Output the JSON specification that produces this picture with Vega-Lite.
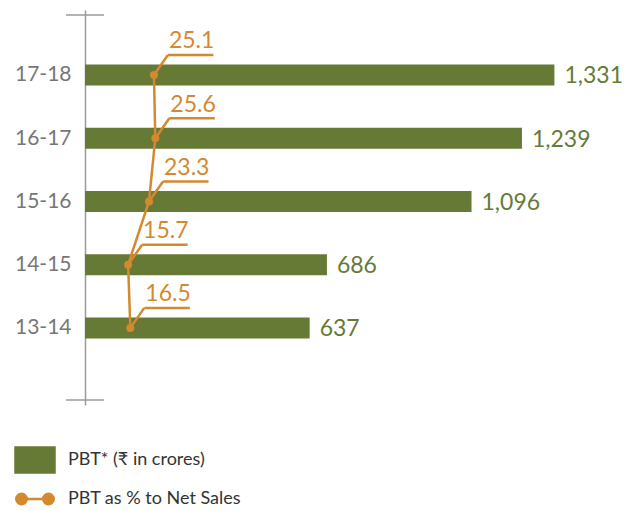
{
  "$schema": "https://vega.github.io/schema/vega-lite/v6.json",
  "width": 529,
  "height": 395,
  "autosize": {"type": "none"},
  "padding": {"left": 85, "top": 10, "right": 20, "bottom": 106},
  "config": {"view": {"stroke": null}, "font": "Lato"},
  "data": {"values": [
    {"year": "17-18", "i": 4, "pbt": 1331, "pct": 25.1},
    {"year": "16-17", "i": 3, "pbt": 1239, "pct": 25.6},
    {"year": "15-16", "i": 2, "pbt": 1096, "pct": 23.3},
    {"year": "14-15", "i": 1, "pbt": 686, "pct": 15.7},
    {"year": "13-14", "i": 0, "pbt": 637, "pct": 16.5}
  ]},
  "resolve": {"scale": {"x": "independent"}},
  "layer": [
    {
      "layer": [
        {
          "mark": {"type": "bar", "size": 21, "orient": "horizontal"},
          "encoding": {
            "y": {"field": "i", "type": "quantitative",
              "scale": {"domain": [-1.14, 4.948], "nice": false, "zero": false},
              "axis": {"values": [0, 1, 2, 3, 4], "labelExpr": "['13-14','14-15','15-16','16-17','17-18'][datum.value]", "title": null, "grid": false, "ticks": false, "domainColor": "#9a9a9a", "domainWidth": 1.5, "labelFontSize": 21, "labelColor": "#777777", "labelPadding": 14, "labelFont": "Lato", "labelBaseline": "middle"}},
            "x": {"field": "pbt", "type": "quantitative", "scale": {"domain": [0, 1500], "nice": false}, "axis": null},
            "color": {"datum": "PBT* (₹ in crores)", "type": "nominal",
              "scale": {"domain": ["PBT* (₹ in crores)", "PBT as % to Net Sales"], "range": ["#667a36", "#d4892f"]},
              "legend": {
                "orient": "none", "legendX": -71, "legendY": 429, "direction": "vertical", "title": null,
                "padding": 0, "rowPadding": 0, "symbolSize": 1521, "labelFontSize": 18, "labelColor": "#333333",
                "labelFont": "Lato", "labelOffset": 12, "labelLimit": 400,
                "encode": {"symbols": {"update": {
                  "shape": {"signal": "datum.value === 'PBT as % to Net Sales' ? 'M-0.69,0H0.69M-0.96,0A0.27,0.27 0 1 0 -0.42,0A0.27,0.27 0 1 0 -0.96,0ZM0.42,0A0.27,0.27 0 1 0 0.96,0A0.27,0.27 0 1 0 0.42,0Z' : 'M-1,-0.64H1V0.64H-1Z'"},
                  "fill": {"signal": "datum.value === 'PBT as % to Net Sales' ? '#d4892f' : '#667a36'"},
                  "stroke": {"signal": "datum.value === 'PBT as % to Net Sales' ? '#d4892f' : 'transparent'"},
                  "strokeWidth": {"value": 2.5},
                  "opacity": {"value": 1}
                }}}
              }}
          }
        },
        {
          "mark": {"type": "text", "align": "left", "baseline": "alphabetic", "dx": 10, "dy": 8.5, "fontSize": 23, "color": "#667a36", "font": "Lato"},
          "encoding": {
            "y": {"field": "i", "type": "quantitative"},
            "x": {"field": "pbt", "type": "quantitative"},
            "text": {"field": "pbt", "type": "quantitative", "format": ","}
          }
        },
        {
          "data": {"values": [{"yc": -1.14}, {"yc": 4.948}]},
          "mark": {"type": "rule", "color": "#9a9a9a", "strokeWidth": 1.5},
          "encoding": {
            "y": {"field": "yc", "type": "quantitative"},
            "x": {"datum": -54},
            "x2": {"datum": 54}
          }
        }
      ]
    },
    {
      "layer": [
        {
          "mark": {"type": "line", "strokeWidth": 2.5},
          "encoding": {
            "x": {"field": "pct", "type": "quantitative", "scale": {"domain": [0, 192.6], "nice": false}, "axis": null},
            "y": {"field": "i", "type": "quantitative"},
            "order": {"field": "i"},
            "color": {"datum": "PBT as % to Net Sales", "type": "nominal"}
          }
        },
        {
          "mark": {"type": "rule", "color": "#d4892f", "strokeWidth": 2.5, "x2Offset": 14, "y2Offset": -20},
          "encoding": {
            "x": {"field": "pct", "type": "quantitative"},
            "x2": {"field": "pct"},
            "y": {"field": "i", "type": "quantitative"},
            "y2": {"field": "i"}
          }
        },
        {
          "mark": {"type": "rule", "color": "#d4892f", "strokeWidth": 2.5, "xOffset": 14, "x2Offset": 59.5, "yOffset": -20, "y2Offset": -20},
          "encoding": {
            "x": {"field": "pct", "type": "quantitative"},
            "x2": {"field": "pct"},
            "y": {"field": "i", "type": "quantitative"},
            "y2": {"field": "i"}
          }
        },
        {
          "mark": {"type": "point", "filled": true, "size": 64, "opacity": 1, "color": "#d4892f"},
          "encoding": {
            "x": {"field": "pct", "type": "quantitative"},
            "y": {"field": "i", "type": "quantitative"}
          }
        },
        {
          "mark": {"type": "text", "align": "left", "baseline": "alphabetic", "dx": 15, "dy": -26.5, "fontSize": 23, "color": "#d4892f", "font": "Lato"},
          "encoding": {
            "x": {"field": "pct", "type": "quantitative"},
            "y": {"field": "i", "type": "quantitative"},
            "text": {"field": "pct", "type": "quantitative", "format": ".1f"}
          }
        }
      ]
    }
  ]
}
